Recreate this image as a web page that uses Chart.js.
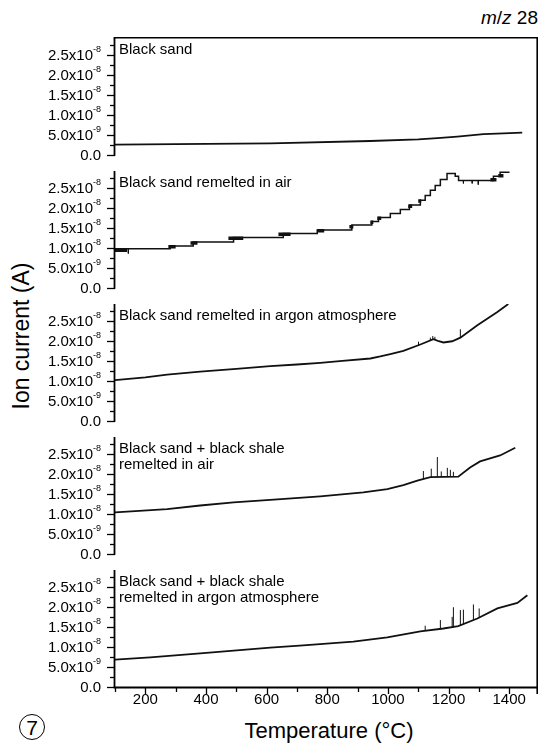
<!DOCTYPE html>
<html>
<head>
<meta charset="utf-8">
<script src="https://cdn.jsdelivr.net/npm/chart.js@4.4.0/dist/chart.umd.min.js"></script>
<style>
  body { margin: 0; background: #fff; width: 539px; height: 745px; position: relative; overflow: hidden;
         font-family: "Liberation Sans", Arial, sans-serif; color: #000; }
  canvas { position: absolute; left: 0; }
  .txt { position: absolute; white-space: nowrap; }
</style>
</head>
<body>

<div class="txt" style="right:1px; top:7px; font-size:19px;"><i>m</i>/<i>z</i> 28</div>
<div class="txt" style="left:-79px; top:321px; width:200px; height:30px; line-height:30px; font-size:23px; text-align:center; transform:rotate(-90deg);">Ion current (A)</div>
<div class="txt" style="left:229px; top:718px; width:200px; text-align:center; font-size:22px;">Temperature (°C)</div>
<div class="txt" style="left:19px; top:714px; width:24px; height:24px; border:1.3px solid #000; border-radius:50%; font-size:21px; line-height:25px; text-align:center;">7</div>

<div id="panels"></div>

<script>
// x axis (temperature, °C)
const xTickValues = [200, 400, 600, 800, 1000, 1200, 1400];
const xTickLabels = ['200', '400', '600', '800', '1000', '1200', '1400'];
const xMinorValues = [100, 300, 500, 700, 900, 1100, 1300];

// y axis (ion current, A), same for every panel
const yTickValues = [0, 5e-9, 1e-8, 1.5e-8, 2e-8, 2.5e-8];
const yTickText = ['0.0', '5.0x10', '1.0x10', '1.5x10', '2.0x10', '2.5x10'];
const yTickExp = ['', '-9', '-8', '-8', '-8', '-8'];
const yMinorValues = [2.5e-9, 7.5e-9, 1.25e-8, 1.75e-8, 2.25e-8, 2.75e-8];

const panelLabels = [
  ['Black sand'],
  ['Black sand remelted in air'],
  ['Black sand remelted in argon atmosphere'],
  ['Black sand + black shale', 'remelted in air'],
  ['Black sand + black shale', 'remelted in argon atmosphere']
];

// panel 1: black sand
const tempSand = [100, 300, 612, 942, 1100, 1163, 1229, 1315, 1381, 1443];
const currentSand = [2.6e-9, 2.7e-9, 2.9e-9, 3.5e-9, 3.9e-9, 4.2e-9, 4.6e-9, 5.2e-9, 5.4e-9, 5.6e-9];

// panel 2: remelted in air (stepped record)
const tempAir = [100, 282, 358, 491, 655, 767, 881, 947, 969, 1008, 1041, 1071, 1107, 1123, 1140, 1156, 1173, 1195, 1222, 1233, 1348, 1370, 1401];
const currentAir = [9.8e-9, 1.05e-8, 1.15e-8, 1.26e-8, 1.36e-8, 1.45e-8, 1.57e-8, 1.66e-8, 1.76e-8, 1.86e-8, 1.96e-8, 2.07e-8, 2.19e-8, 2.31e-8, 2.44e-8, 2.56e-8, 2.71e-8, 2.86e-8, 2.79e-8, 2.68e-8, 2.79e-8, 2.89e-8, 2.89e-8];
const blobStartAir = [100, 276, 349, 474, 639, 767, 873, 942, 965, 1067, 1100, 1338, 1364];
const blobEndAir = [140, 300, 372, 523, 679, 790, 886, 952, 978, 1080, 1110, 1358, 1381];
const blobLevelAir = [9.4e-9, 1.03e-8, 1.12e-8, 1.24e-8, 1.34e-8, 1.43e-8, 1.53e-8, 1.64e-8, 1.74e-8, 2.04e-8, 2.17e-8, 2.7e-8, 2.8e-8];
const spikeTempAir = [144, 1249, 1278, 1298];
const spikeBaseAir = [9.8e-9, 2.68e-8, 2.68e-8, 2.68e-8];
const spikePeakAir = [8.6e-9, 2.61e-8, 2.61e-8, 2.58e-8];

// panel 3: remelted in argon
const tempArgon = [100, 200, 272, 381, 500, 612, 700, 777, 850, 942, 975, 1008, 1051, 1107, 1150, 1165, 1183, 1212, 1239, 1295, 1361, 1397];
const currentArgon = [1.02e-8, 1.09e-8, 1.16e-8, 1.23e-8, 1.3e-8, 1.37e-8, 1.41e-8, 1.45e-8, 1.5e-8, 1.56e-8, 1.61e-8, 1.67e-8, 1.75e-8, 1.91e-8, 2.04e-8, 2.0e-8, 1.96e-8, 1.99e-8, 2.08e-8, 2.39e-8, 2.72e-8, 2.92e-8];
const spikeTempArgon = [1101, 1140, 1148, 1155, 1239];
const spikeBaseArgon = [1.88e-8, 2.01e-8, 2.03e-8, 2.04e-8, 2.08e-8];
const spikePeakArgon = [1.98e-8, 2.08e-8, 2.12e-8, 2.1e-8, 2.29e-8];

// panel 4: sand + shale remelted in air
const tempShaleAir = [100, 272, 381, 491, 612, 777, 919, 998, 1051, 1097, 1140, 1232, 1271, 1304, 1370, 1420];
const currentShaleAir = [1.04e-8, 1.12e-8, 1.21e-8, 1.29e-8, 1.35e-8, 1.44e-8, 1.54e-8, 1.62e-8, 1.72e-8, 1.83e-8, 1.92e-8, 1.93e-8, 2.16e-8, 2.31e-8, 2.46e-8, 2.65e-8];
const spikeTempShaleAir = [1117, 1143, 1163, 1176, 1196, 1206, 1216];
const spikeBaseShaleAir = [1.87e-8, 1.92e-8, 1.92e-8, 1.92e-8, 1.93e-8, 1.93e-8, 1.93e-8];
const spikePeakShaleAir = [2.07e-8, 2.13e-8, 2.42e-8, 2.06e-8, 2.15e-8, 2.1e-8, 2.05e-8];

// panel 5: sand + shale remelted in argon
const tempShaleArgon = [100, 216, 381, 612, 721, 886, 998, 1107, 1183, 1232, 1295, 1361, 1427, 1460];
const currentShaleArgon = [6.85e-9, 7.4e-9, 8.4e-9, 9.85e-9, 1.04e-8, 1.13e-8, 1.24e-8, 1.39e-8, 1.46e-8, 1.52e-8, 1.71e-8, 1.96e-8, 2.1e-8, 2.29e-8];
const spikeTempShaleArgon = [1123, 1173, 1212, 1216, 1239, 1249, 1282, 1301];
const spikeBaseShaleArgon = [1.41e-8, 1.45e-8, 1.48e-8, 1.48e-8, 1.54e-8, 1.57e-8, 1.66e-8, 1.72e-8];
const spikePeakShaleArgon = [1.53e-8, 1.67e-8, 1.75e-8, 1.99e-8, 1.92e-8, 1.93e-8, 2.06e-8, 1.96e-8];

const FONT = '"Liberation Sans", Arial, sans-serif';
const panelTops = [38, 171, 304, 437, 570];
const plotHeight = 117;

function toPoints(xs, ys) {
  return xs.map((x, i) => ({ x: x, y: ys[i] }));
}

function spikePoints(ts, base, peak) {
  const pts = [];
  ts.forEach((t, i) => {
    pts.push({ x: t, y: base[i] }, { x: t, y: peak[i] }, { x: t, y: null });
  });
  return pts;
}

function blobPoints(starts, ends, levels) {
  const pts = [];
  starts.forEach((s, i) => {
    pts.push({ x: s, y: levels[i] }, { x: ends[i], y: levels[i] }, { x: ends[i], y: null });
  });
  return pts;
}

const lineStyle = { borderColor: '#111', borderWidth: 1.8, pointRadius: 0, fill: false, tension: 0 };
const spikeStyle = { borderColor: '#111', borderWidth: 1, pointRadius: 0, fill: false, spanGaps: false };

const panelData = [
  [ { ...lineStyle, data: toPoints(tempSand, currentSand) } ],
  [ { ...lineStyle, stepped: true, borderWidth: 1.5, data: toPoints(tempAir, currentAir) },
    { ...spikeStyle, borderWidth: 3.5, data: blobPoints(blobStartAir, blobEndAir, blobLevelAir) },
    { ...spikeStyle, data: spikePoints(spikeTempAir, spikeBaseAir, spikePeakAir) } ],
  [ { ...lineStyle, data: toPoints(tempArgon, currentArgon) },
    { ...spikeStyle, data: spikePoints(spikeTempArgon, spikeBaseArgon, spikePeakArgon) } ],
  [ { ...lineStyle, data: toPoints(tempShaleAir, currentShaleAir) },
    { ...spikeStyle, data: spikePoints(spikeTempShaleAir, spikeBaseShaleAir, spikePeakShaleAir) } ],
  [ { ...lineStyle, data: toPoints(tempShaleArgon, currentShaleArgon) },
    { ...spikeStyle, data: spikePoints(spikeTempShaleArgon, spikeBaseShaleArgon, spikePeakShaleArgon) } ]
];

// axes, frame and panel labels drawn on top of the data using the chart scales
const panelFrame = {
  id: 'panelFrame',
  afterDraw(chart, args, opts) {
    const ctx = chart.ctx;
    const area = chart.chartArea;
    const xs = chart.scales.x;
    const ys = chart.scales.y;
    const idx = opts.index;
    ctx.save();
    ctx.strokeStyle = '#000';
    ctx.fillStyle = '#000';

    // left axis
    ctx.lineWidth = 1.8;
    ctx.beginPath();
    ctx.moveTo(area.left - 0.5, area.top);
    ctx.lineTo(area.left - 0.5, area.bottom + 0.9);
    ctx.stroke();

    ctx.lineWidth = 1.3;
    yTickValues.forEach(v => {
      const y = Math.round(ys.getPixelForValue(v)) + 0.5;
      ctx.beginPath(); ctx.moveTo(area.left - 8, y); ctx.lineTo(area.left, y); ctx.stroke();
    });
    yMinorValues.forEach(v => {
      const y = Math.round(ys.getPixelForValue(v)) + 0.5;
      ctx.beginPath(); ctx.moveTo(area.left - 5, y); ctx.lineTo(area.left, y); ctx.stroke();
    });

    // tick labels with superscript exponents
    ctx.textAlign = 'right';
    ctx.textBaseline = 'middle';
    yTickValues.forEach((v, i) => {
      const y = ys.getPixelForValue(v);
      let right = 101;
      if (yTickExp[i]) {
        ctx.font = '9px ' + FONT;
        ctx.fillText(yTickExp[i], right, y - 5);
        right -= ctx.measureText(yTickExp[i]).width;
      }
      ctx.font = '15px ' + FONT;
      ctx.fillText(yTickText[i], right, y + 1);
    });

    // right frame line, continuous through the gaps
    const bottomCanvas = chart.height;
    ctx.lineWidth = 1.6;
    ctx.beginPath();
    ctx.moveTo(area.right - 0.8, idx === 0 ? area.top - 0.8 : 0);
    ctx.lineTo(area.right - 0.8, idx === 4 ? area.bottom + 7 : bottomCanvas);
    ctx.stroke();

    if (idx === 0) {
      ctx.beginPath();
      ctx.moveTo(area.left - 1.4, area.top - 0.2);
      ctx.lineTo(area.right, area.top - 0.2);
      ctx.stroke();
    }

    if (idx === 4) {
      // bottom temperature axis
      ctx.lineWidth = 1.8;
      ctx.beginPath();
      ctx.moveTo(area.left - 1.4, area.bottom + 0.5);
      ctx.lineTo(area.right, area.bottom + 0.5);
      ctx.stroke();
      ctx.lineWidth = 1.3;
      xTickValues.forEach(v => {
        const x = Math.round(xs.getPixelForValue(v)) + 0.5;
        ctx.beginPath(); ctx.moveTo(x, area.bottom); ctx.lineTo(x, area.bottom + 7); ctx.stroke();
      });
      xMinorValues.forEach(v => {
        const x = Math.round(xs.getPixelForValue(v)) + 0.5;
        ctx.beginPath(); ctx.moveTo(x, area.bottom); ctx.lineTo(x, area.bottom + 5); ctx.stroke();
      });
      ctx.font = '15px ' + FONT;
      ctx.textAlign = 'center';
      ctx.textBaseline = 'middle';
      xTickValues.forEach((v, i) => {
        ctx.fillText(xTickLabels[i], xs.getPixelForValue(v), area.bottom + 13);
      });
    }

    // panel label in the upper-left corner
    ctx.font = '15px ' + FONT;
    ctx.textAlign = 'left';
    ctx.textBaseline = 'alphabetic';
    panelLabels[idx].forEach((line, k) => {
      ctx.fillText(line, 119, area.top + 15.5 + k * 16.5);
    });
    ctx.restore();
  }
};

const holder = document.getElementById('panels');
panelTops.forEach((top, i) => {
  const canvas = document.createElement('canvas');
  const canvasTop = top - 10;
  const canvasHeight = i < 4 ? panelTops[i + 1] - top : 745 - canvasTop;
  canvas.width = 539;
  canvas.height = canvasHeight;
  canvas.style.top = canvasTop + 'px';
  canvas.style.width = '539px';
  canvas.style.height = canvasHeight + 'px';
  holder.appendChild(canvas);

  new Chart(canvas, {
    type: 'line',
    data: { datasets: panelData[i] },
    options: {
      responsive: false,
      animation: false,
      events: [],
      devicePixelRatio: 1,
      layout: { padding: { top: 10, left: 115, right: 1, bottom: canvasHeight - 10 - plotHeight } },
      plugins: {
        legend: { display: false },
        tooltip: { enabled: false },
        panelFrame: { index: i }
      },
      scales: {
        x: { type: 'linear', min: 100, max: 1495, display: false },
        y: { type: 'linear', min: 0, max: 2.92e-8, display: false }
      }
    },
    plugins: [panelFrame]
  });
});
</script>
</body>
</html>
